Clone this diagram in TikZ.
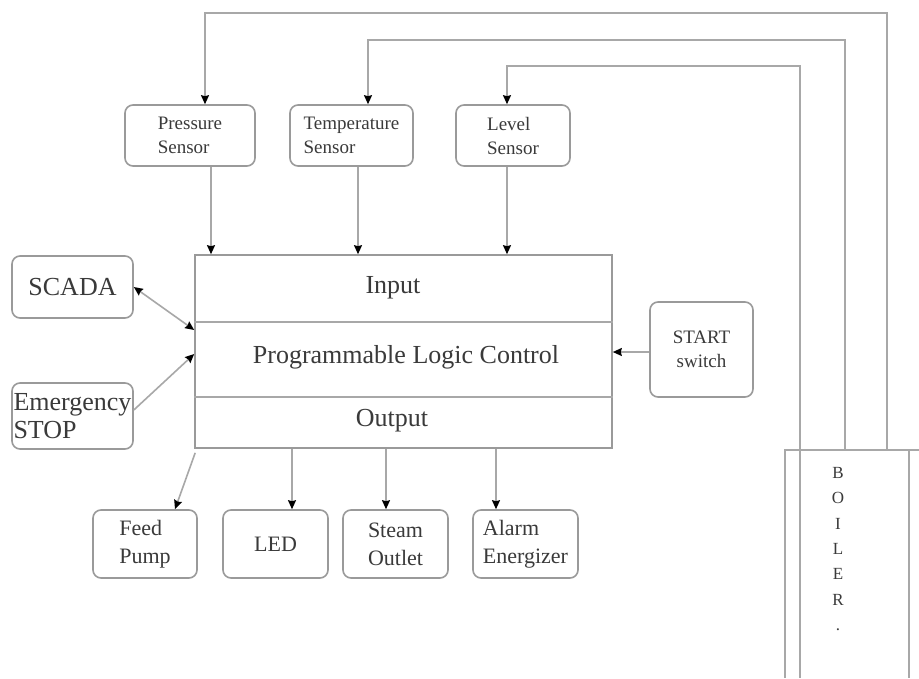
\documentclass[tikz,border=0pt]{standalone}
\usepackage{fontspec}
\setmainfont{Liberation Serif}
\usetikzlibrary{arrows.meta,calc}
\definecolor{linegray}{HTML}{A8A8A8}
\definecolor{boxgray}{HTML}{9A9A9A}
\definecolor{txt}{HTML}{3A3A3A}
\tikzset{
  box/.style={draw=boxgray, line width=1.6pt, rounded corners=8pt, inner sep=0pt, align=left, text=txt},
  wire/.style={draw=linegray, line width=1.6pt},
  arr/.style={wire, -{Stealth[length=9pt,width=8pt,inset=1pt,color=black]}},
  darr/.style={wire, {Stealth[length=9pt,width=8pt,inset=1pt,color=black]}-{Stealth[length=9pt,width=8pt,inset=1pt,color=black]}},
  small/.style={font=\fontsize{19}{24}\selectfont},
  mid/.style={font=\fontsize{22}{28}\selectfont},
  big/.style={font=\fontsize{26}{28}\selectfont},
}
\begin{document}
\begin{tikzpicture}[x=1pt,y=-1pt]
\useasboundingbox[fill=white] (0,0) rectangle (919,678);

% sensors
\node[box, small, minimum width=130pt, minimum height=61pt] (ps) at (190,135.5) {Pressure\\Sensor};
\node[box, small, minimum width=123pt, minimum height=61pt] (ts) at (351.5,135.5) {Temperature\\Sensor};
\node[box, small, minimum width=114pt, minimum height=61pt] (ls) at (513,135.5) {Level\\Sensor};

% PLC
\node[draw=boxgray, line width=1.6pt, minimum width=417pt, minimum height=193pt, inner sep=0pt] (plc) at (403.5,351.5) {};
\draw[wire] (plc.west |- 0,322) -- (plc.east |- 0,322);
\draw[wire] (plc.west |- 0,397) -- (plc.east |- 0,397);
\node[big, text=txt] (inp) at (393,288) {Input};
\node[big, text=txt] (plct) at (406,357) {Programmable Logic Control};
\node[big, text=txt] (outp) at (392,421) {Output};

% side boxes
\node[box, big, minimum width=121pt, minimum height=62pt, align=center] (scada) at (72.5,287) {SCADA};
\node[box, big, minimum width=121pt, minimum height=66pt] (estop) at (72.5,416) {Emergency\\STOP};
\node[box, small, minimum width=103pt, minimum height=95pt, align=center] (start) at (701.5,349.5) {START\\switch};

% outputs
\node[box, mid, minimum width=104pt, minimum height=68pt] (feed) at (145,544) {Feed\\Pump};
\node[box, mid, minimum width=105pt, minimum height=68pt, align=center] (led) at (275.5,544) {LED};
\node[box, mid, minimum width=105pt, minimum height=68pt] (steam) at (395.5,544) {Steam\\Outlet};
\node[box, mid, minimum width=105pt, minimum height=68pt] (alarm) at (525.5,544) {Alarm\\Energizer};

% boiler
\coordinate (btl) at (785,450);
\draw[wire] (785,678) -- (btl) -- (919,450);
\draw[wire] (800,450) -- (800,678);
\draw[wire] (909,450) -- (909,678);
\node[text=txt, font=\fontsize{17}{25.4}\selectfont, align=center] (boiler) at (838,549) {B\\O\\I\\L\\E\\R\\.};

% boiler to sensors
\draw[arr] (887,450) -- (887,13) -| (ps.north -| 205,0);
\draw[arr] (845,450) -- (845,40) -| (ts.north -| 368,0);
\draw[arr] (800,450) -- (800,66) -| (ls.north -| 507,0);

% sensors to PLC
\draw[arr] (ps.south -| 211,0) -- (plc.north -| 211,0);
\draw[arr] (ts.south -| 358,0) -- (plc.north -| 358,0);
\draw[arr] (ls.south -| 507,0) -- (plc.north -| 507,0);

% side connections
\draw[darr] (scada.east) -- (plc.west |- 0,330);
\draw[arr] (estop.east |- 0,410) -- (plc.west |- 0,354);
\draw[arr] (start.west |- 0,352) -- (plc.east |- 0,352);

% PLC to outputs
\draw[arr] (plc.south west) ++(1,4) -- ($(feed.north)+(30,0)$);
\draw[arr] (plc.south -| 292,0) -- (led.north -| 292,0);
\draw[arr] (plc.south -| 386,0) -- (steam.north -| 386,0);
\draw[arr] (plc.south -| 496,0) -- (alarm.north -| 496,0);
\end{tikzpicture}
\end{document}
